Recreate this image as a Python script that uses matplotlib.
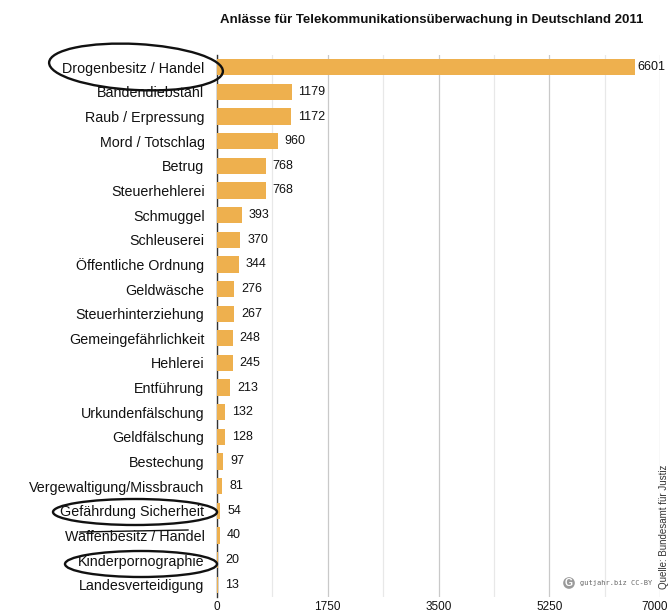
import matplotlib
matplotlib.use("Agg")
import matplotlib.pyplot as plt
from matplotlib.patches import Ellipse
from matplotlib.lines import Line2D
from matplotlib.transforms import ScaledTranslation
import numpy as np

plt.rcParams['font.family'] = ['Liberation Sans', 'DejaVu Sans']

categories = ["Drogenbesitz / Handel", "Bandendiebstahl", "Raub / Erpressung", "Mord / Totschlag",
              "Betrug", "Steuerhehlerei", "Schmuggel", "Schleuserei", "Öffentliche Ordnung",
              "Geldwäsche", "Steuerhinterziehung", "Gemeingefährlichkeit", "Hehlerei", "Entführung",
              "Urkundenfälschung", "Geldfälschung", "Bestechung", "Vergewaltigung/Missbrauch",
              "Gefährdung Sicherheit", "Waffenbesitz / Handel", "Kinderpornographie",
              "Landesverteidigung"]
values = [6601, 1179, 1172, 960, 768, 768, 393, 370, 344, 276, 267, 248, 245, 213,
          132, 128, 97, 81, 54, 40, 20, 13]
xticks = [0, 1750, 3500, 5250, 7000]

W, H = 670, 613
fig = plt.figure(figsize=(W/100, H/100), dpi=100)
ax = fig.add_axes([217/W, 1-597/H, (660-217)/W, (597-55)/H])

y = np.arange(len(categories))
ax.barh(y, values, height=0.66, color='#eeb04e', zorder=3)
ax.set_ylim(len(categories)-0.5, -0.5)
ax.set_xlim(0, 7000)
ax.set_yticks(y)
ax.set_yticklabels(categories, fontsize=10.3, color='#111111')
ax.set_xticks(xticks)
ax.set_xticklabels([str(t) for t in xticks], fontsize=8.5, color='#111111')
ax.set_xticks(np.arange(875, 7000, 1750), minor=True)
ax.grid(axis='x', which='major', color='#c9c9c9', linewidth=0.9, zorder=0)
ax.grid(axis='x', which='minor', color='#e8e8e8', linewidth=0.9, zorder=0)
ax.tick_params(axis='both', which='both', length=0)
ax.tick_params(axis='y', pad=9)
ax.tick_params(axis='x', pad=3)
for s in ['top', 'right', 'bottom']:
    ax.spines[s].set_visible(False)
ax.spines['left'].set_color('#333333')
ax.spines['left'].set_linewidth(1.0)

last = ax.get_xticklabels()[-1]
last.set_transform(last.get_transform() + ScaledTranslation(-0.05, 0, fig.dpi_scale_trans))

for yi, v in zip(y, values):
    ax.annotate(str(v), (v, yi), xytext=(5 if v < 6000 else 2, 0), textcoords='offset points',
                va='center', ha='left', fontsize=9, color='#111111', annotation_clip=False)

fig.text(432/W, 1-20/H, "Anlässe für Telekommunikationsüberwachung in Deutschland 2011",
         ha='center', va='center', fontsize=9.5, fontweight='bold', color='#111111')

fig.text(664/W, 1-589/H, "Quelle: Bundesamt für Justiz", rotation=90, ha='center', va='bottom',
         fontsize=7, color='#333333')

fig.text(580/W, 1-583/H, "gutjahr.biz CC-BY", family='DejaVu Sans Mono', fontsize=5.0,
         color='#666666', ha='left', va='center')
fig.text(569/W, 1-583/H, "G", fontsize=7.5, fontweight='bold', color='white', ha='center', va='center',
         bbox=dict(boxstyle='circle,pad=0.08', fc='#9a9a9a', ec='none'))

tr = fig.dpi_scale_trans
def ell(cx, cy, w, h, ang=0):
    e = Ellipse((cx/100, (H-cy)/100), w/100, h/100, angle=ang, transform=tr,
                fill=False, ec='#111111', lw=1.7, zorder=10)
    fig.add_artist(e)

ell(136, 67, 174, 46, -3)
ell(135, 512, 164, 26)
ell(141, 564, 152, 26)
fig.add_artist(Line2D([80/100, 188/100], [(H-532)/100, (H-530)/100], transform=tr,
                      color='#111111', lw=1.0))

fig.savefig("out.png", dpi=100)
